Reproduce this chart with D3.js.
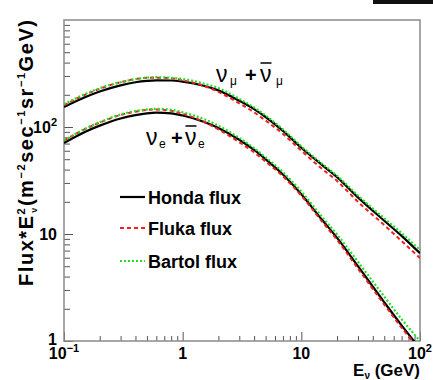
<!DOCTYPE html>
<html>
<head>
<meta charset="utf-8">
<script src="https://cdn.jsdelivr.net/npm/d3@7"></script>
<style>
  html, body { margin: 0; padding: 0; background: #fff; }
  svg { display: block; }
  text { font-family: "Liberation Sans", Arial, Helvetica, sans-serif; }
</style>
</head>
<body>
<script>
// Neutrino energy grid (GeV)
const energy = [0.1, 0.15, 0.2, 0.3, 0.4, 0.5, 0.6, 0.8, 1, 1.5, 2, 3, 4, 5, 7, 10, 15, 20, 30, 50, 70, 100];

// Flux * E^2 for nu_mu + anti-nu_mu
const hondaNumu  = [154, 190, 215, 245, 262, 270, 273, 272, 265, 243, 220, 176, 147, 124, 92, 64, 44, 34, 22, 13.3, 9.6, 6.6];
const flukaNumu  = [160, 200, 228, 262, 280, 289, 289, 286, 273, 243, 213, 166, 137, 115, 86, 60, 40.5, 31.3, 20, 12.1, 8.6, 5.95];
const bartolNumu = [163, 203, 230, 262, 280, 289, 292, 288, 281, 255, 231, 183, 152, 128, 95, 66, 45.3, 35, 22.9, 14, 10.2, 7.06];

// Flux * E^2 for nu_e + anti-nu_e
const hondaNue  = [71, 90, 103, 120, 129, 134, 136, 134, 128, 112, 98, 76, 61, 50, 36, 23.5, 13.5, 9.2, 5.0, 2.3, 1.4, 0.85];
const flukaNue  = [74.5, 95.4, 110, 129.6, 139, 144.7, 145.5, 142, 133, 112, 95, 72, 58, 47.5, 34.6, 22.8, 13, 8.8, 4.75, 2.19, 1.33, 0.82];
const bartolNue = [75, 96, 111, 131, 141, 146, 148, 145, 137, 119, 103, 79, 63.4, 52, 37.8, 24.9, 14.4, 9.9, 5.5, 2.6, 1.6, 1.0];

const legendNames = ["Honda flux", "Fluka flux", "Bartol flux"];
const xTickValues = [0.1, 1, 10, 100];
const yTickValues = [1, 10, 100];

const W = 433, H = 380;
const plot = { left: 64, right: 420, top: 20, bottom: 341 };

const svg = d3.select("body").append("svg").attr("width", W).attr("height", H);

const x = d3.scaleLog().domain([0.1, 100]).range([plot.left, plot.right]);
const y = d3.scaleLog().domain([1, 1000]).range([plot.bottom, plot.top]);

const styles = [
  { color: "#000000", dash: null, width: 2.2 },
  { color: "#ee2020", dash: "4,3", width: 2 },
  { color: "#22dd22", dash: "2,2", width: 2.2 }
];

// clip region for the curves
svg.append("defs").append("clipPath").attr("id", "plotClip")
  .append("rect")
  .attr("x", plot.left).attr("y", plot.top)
  .attr("width", plot.right - plot.left).attr("height", plot.bottom - plot.top);

// small dark bar in the top-right corner
svg.append("rect").attr("x", 373).attr("y", 0).attr("width", 60).attr("height", 4).attr("fill", "#111");

// minor + major ticks
const minorX = [];
for (let d = 0.1; d < 100; d *= 10) for (let k = 2; k <= 9; k++) minorX.push(+(d * k).toPrecision(3));
const minorY = [];
for (let d = 1; d < 1000; d *= 10) for (let k = 2; k <= 9; k++) minorY.push(d * k);

const axisColor = "#8a8a8a";

const gx = svg.append("g").attr("transform", `translate(0,${plot.bottom})`);
gx.call(d3.axisBottom(x).tickValues(minorX).tickSize(-5).tickFormat(""));
const gx2 = svg.append("g").attr("transform", `translate(0,${plot.bottom})`);
gx2.call(d3.axisBottom(x).tickValues(xTickValues).tickSize(-9).tickFormat(""));

const gy = svg.append("g").attr("transform", `translate(${plot.left},0)`);
gy.call(d3.axisLeft(y).tickValues(minorY).tickSize(-6).tickFormat(""));
const gy2 = svg.append("g").attr("transform", `translate(${plot.left},0)`);
gy2.call(d3.axisLeft(y).tickValues(yTickValues).tickSize(-9).tickFormat(""));

svg.selectAll(".domain").remove();
svg.selectAll(".tick line").attr("stroke", "#555").attr("stroke-width", 1);

// frame
svg.append("rect")
  .attr("x", plot.left).attr("y", plot.top)
  .attr("width", plot.right - plot.left).attr("height", plot.bottom - plot.top)
  .attr("fill", "none").attr("stroke", axisColor).attr("stroke-width", 1.5);

// curves
const line = d3.line()
  .x((d, i) => x(energy[i]))
  .y(d => y(d))
  .curve(d3.curveMonotoneX);

const curves = svg.append("g").attr("clip-path", "url(#plotClip)");
const seriesSets = [
  [hondaNumu, flukaNumu, bartolNumu],
  [hondaNue, flukaNue, bartolNue]
];
seriesSets.forEach(set => {
  set.forEach((vals, k) => {
    curves.append("path")
      .datum(vals)
      .attr("d", line)
      .attr("fill", "none")
      .attr("stroke", styles[k].color)
      .attr("stroke-width", styles[k].width)
      .attr("stroke-dasharray", styles[k].dash);
  });
});

// tick labels
const labelFont = 16;
function powerLabel(sel, v) {
  const e = Math.round(Math.log10(v));
  if (e === 0) sel.text("1");
  else if (e === 1) sel.text("10");
  else {
    sel.text("10");
    sel.append("tspan").attr("dy", -7).attr("font-size", 11).text(e < 0 ? "\u2212" + (-e) : e);
  }
}
yTickValues.forEach(v => {
  const t = svg.append("text")
    .attr("x", plot.left - 7).attr("y", Math.min(y(v) + 6, 345))
    .attr("text-anchor", "end")
    .attr("font-weight", "bold").attr("font-size", labelFont).attr("fill", "#000");
  powerLabel(t, v);
});
xTickValues.forEach(v => {
  const t = svg.append("text")
    .attr("x", x(v)).attr("y", 359)
    .attr("text-anchor", "middle")
    .attr("font-weight", "bold").attr("font-size", labelFont).attr("fill", "#000");
  powerLabel(t, v);
});

// axis titles
const xt = svg.append("text")
  .attr("x", plot.right).attr("y", 376)
  .attr("text-anchor", "end")
  .attr("font-weight", "bold").attr("font-size", 17).attr("fill", "#000");
xt.append("tspan").text("E");
xt.append("tspan").attr("dy", 3).attr("font-size", 10).text("\u03bd");
xt.append("tspan").attr("dy", -3).text(" (GeV)");

const yt = svg.append("text")
  .attr("transform", `translate(33,${plot.top}) rotate(-90)`)
  .attr("text-anchor", "end")
  .attr("textLength", 266).attr("lengthAdjust", "spacing")
  .attr("font-weight", "bold").attr("font-size", 20).attr("fill", "#000");
yt.append("tspan").text("Flux*E");
yt.append("tspan").attr("dy", -8).attr("font-size", 11).text("2");
yt.append("tspan").attr("dy", 12).attr("dx", -6).attr("font-size", 9).text("\u03bd");
yt.append("tspan").attr("dy", -4).text("(m");
yt.append("tspan").attr("dy", -8).attr("font-size", 11).text("\u22122");
yt.append("tspan").attr("dy", 8).text("sec");
yt.append("tspan").attr("dy", -8).attr("font-size", 11).text("\u22121");
yt.append("tspan").attr("dy", 8).text("sr");
yt.append("tspan").attr("dy", -8).attr("font-size", 11).text("\u22121");
yt.append("tspan").attr("dy", 8).text("GeV)");

// curve annotations: nu + anti-nu, each piece placed explicitly
const serif = "'Liberation Serif', 'DejaVu Serif', serif";
function nuLabel(pos, yBase, sub) {
  const g = svg.append("g").attr("fill", "#000");
  g.append("text").attr("x", pos[0]).attr("y", yBase)
    .attr("font-family", serif).attr("font-size", 23).text("\u03bd");
  g.append("text").attr("x", pos[1]).attr("y", yBase + 3)
    .attr("font-family", serif).attr("font-size", 12).text(sub);
  g.append("text").attr("x", pos[2]).attr("y", yBase)
    .attr("font-weight", "bold").attr("font-size", 20).text("+");
  g.append("text").attr("x", pos[3]).attr("y", yBase)
    .attr("font-family", serif).attr("font-size", 23).text("\u03bd");
  g.append("text").attr("x", pos[4]).attr("y", yBase + 3)
    .attr("font-family", serif).attr("font-size", 12).text(sub);
  // overbar on the antineutrino
  g.append("line")
    .attr("x1", pos[3] + 0.5).attr("x2", pos[3] + 11.5)
    .attr("y1", yBase - 19).attr("y2", yBase - 19)
    .attr("stroke", "#000").attr("stroke-width", 1.5);
}
nuLabel([216, 230, 245, 260, 276], 82, "\u03bc");
nuLabel([146, 159, 171, 185, 198], 145, "e");

// legend
const legendY = [197, 228, 261];
legendNames.forEach((name, k) => {
  svg.append("line")
    .attr("x1", 120).attr("x2", 145)
    .attr("y1", legendY[k]).attr("y2", legendY[k])
    .attr("stroke", styles[k].color)
    .attr("stroke-width", styles[k].width)
    .attr("stroke-dasharray", styles[k].dash);
  svg.append("text")
    .attr("x", 148).attr("y", legendY[k] + 6.5)
    .attr("font-weight", "bold").attr("font-size", 18).attr("fill", "#000")
    .text(name);
});
</script>
</body>
</html>
